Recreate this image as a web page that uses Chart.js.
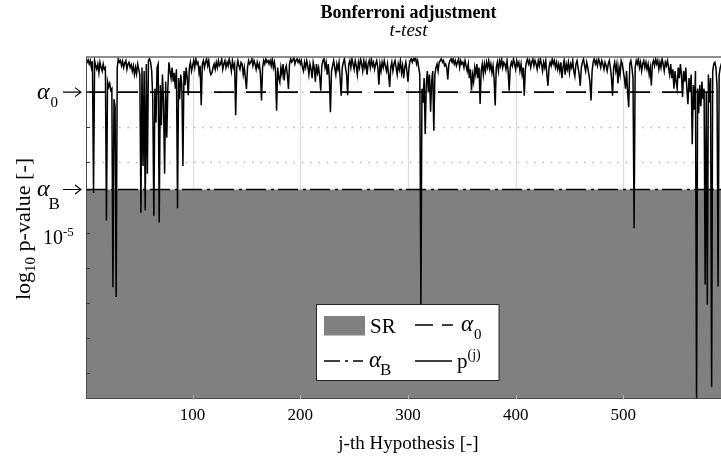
<!DOCTYPE html>
<html><head><meta charset="utf-8">
<script src="https://cdn.jsdelivr.net/npm/chart.js@4.4.1/dist/chart.umd.min.js"></script>
<style>
html,body{margin:0;padding:0;overflow:hidden;background:#fff;width:721px;height:459px}
#wrap{position:absolute;left:0;top:0;width:740px;height:459px}
</style>
</head><body><div id="wrap"><canvas id="c" width="740" height="459"></canvas></div>
<script>
// log10 of the p-value of each hypothesis j = 1..600
const pLog = [
 -0.05,-0.15,-0.08,-0.2,-0.1,-0.3,-0.12,-3.87,-0.1,-0.25,
 -0.35,-0.2,-0.45,-0.15,-0.3,-0.4,-0.2,-0.35,-0.3,-4.65,
 -0.7,-0.85,-0.75,-0.95,-0.9,-6.55,-1.2,-1.4,-6.83,-0.3,
 -0.05,-0.15,-0.1,-0.25,-0.12,-0.3,-0.18,-0.1,-0.35,-0.2,
 -0.15,-0.3,-0.22,-0.4,-0.25,-0.5,-0.3,-0.48,-0.2,-0.35,
 -0.5,-4.43,-0.3,-3.1,-0.4,-4.36,-0.2,-3.32,-0.1,-0.05,
 -0.15,-0.4,-1.2,-4.52,-0.9,-1.86,-0.3,-0.2,-4.71,-0.8,
 -1.94,-0.5,-1.3,-3.32,-0.7,-2.3,-0.9,-0.15,-0.4,-0.6,
 -0.3,-0.7,-0.45,-0.9,-0.35,-4.3,-0.6,-1.2,-0.5,-0.8,
 -3.1,-0.4,-0.8,-0.3,-0.6,-1.09,-0.3,-0.15,-0.4,-0.25,
 -0.1,-0.3,-0.05,-0.2,-0.15,-0.45,-0.25,-1.37,-0.2,-0.1,
 -0.3,-0.15,-0.05,-0.25,-0.1,-0.4,-0.5,-0.45,-0.3,-0.2,
 -0.35,-0.15,-0.3,-0.1,-0.25,-0.2,-0.05,-0.35,-0.2,-0.1,
 -0.3,-0.15,-0.25,-0.05,-0.2,-0.4,-0.1,-0.3,-0.2,-1.66,
 -0.3,-0.1,-0.25,-0.35,-0.15,-0.2,-0.5,-0.3,-0.6,-0.91,
 -0.3,-0.1,-0.2,-0.15,-0.05,-0.25,-0.1,-0.2,-0.35,-0.15,
 -0.3,-0.2,-0.5,-1.24,-0.3,-0.1,-0.2,-0.05,-0.15,-0.1,
 -0.2,-0.1,-0.25,-0.05,-0.3,-0.15,-0.4,-1.53,-0.3,-0.6,
 -0.72,-0.3,-0.5,-0.2,-0.67,-0.35,-0.25,-0.5,-0.91,-0.2,
 -0.05,-0.15,-0.1,0,-0.2,-0.1,-0.05,-0.15,-0.08,-0.2,
 -0.1,-0.3,-0.4,-0.15,-0.3,-0.1,-0.25,-0.5,-0.2,-0.35,
 -0.6,-0.15,-0.3,-0.7,-0.2,-0.45,-0.3,-0.55,-0.96,-0.25,
 -0.1,-0.05,-0.3,-0.15,-0.5,-0.2,-0.6,-1.57,-0.4,-0.25,
 -0.1,-0.3,-0.5,-0.2,-0.35,-0.15,-0.6,-1.1,-0.3,-0.15,
 -0.05,-0.3,-0.5,-1.09,-0.2,-0.1,-0.3,-0.05,-0.2,-0.35,
 -0.1,-0.25,-0.5,-0.15,-0.3,-0.05,-0.2,-0.4,-0.1,-0.3,
 -0.15,-0.5,-0.2,-0.1,-0.3,-0.05,-0.25,-0.15,-0.35,-0.2,
 -0.1,-0.3,-0.79,-0.2,-0.4,-0.15,-0.3,-0.1,-0.25,-0.4,
 -0.2,-0.5,-0.85,-0.3,-0.15,-0.4,-0.2,-0.1,-0.3,-0.5,
 -0.2,-0.35,-0.1,-0.45,-0.25,-0.6,-0.3,-0.15,-0.4,-0.7,
 -0.3,-0.1,-0.05,-0.15,-0.05,-0.1,0,-0.2,-0.1,-0.3,
 -0.5,-7.2,-0.9,-1.3,-0.6,-2.19,-0.8,-0.4,-1.0,-0.5,
 -1.56,-0.7,-0.4,-2.1,-0.5,-0.3,-0.2,-0.4,-0.15,-0.1,
 -0.05,-0.15,-0.1,-0.25,-0.2,-0.3,-0.64,-0.2,-0.1,-0.05,
 -0.15,-0.05,-0.2,-0.1,-0.25,-0.15,-0.05,-0.3,-0.1,-0.2,
 -0.15,-0.3,-0.1,-0.25,-0.4,-0.2,-0.6,-0.35,-0.95,-0.5,
 -0.7,-0.3,-0.5,-0.2,-0.6,-0.3,-1.34,-0.4,-0.2,-0.5,
 -0.2,-0.4,-0.15,-0.3,-0.1,-0.35,-0.2,-0.45,-0.25,-0.6,
 -1.38,-0.3,-0.15,-0.4,-0.1,-0.25,-0.05,-0.3,-0.15,-0.2,
 -0.35,-0.1,-0.4,-0.96,-0.3,-0.15,-0.25,-0.05,-0.2,-0.35,
 -0.1,-0.25,-0.15,-0.4,-0.2,-0.5,-0.3,-1.1,-0.35,-0.15,
 -0.05,-0.2,-0.1,-0.3,-0.15,-0.05,-0.25,-0.1,-0.2,-0.35,
 -0.1,-0.25,-0.05,-0.2,-0.4,-0.15,-0.3,-0.1,-0.5,-0.82,
 -0.3,-0.15,-0.25,-0.05,-0.2,-0.1,-0.3,-0.15,-0.35,-0.2,
 -0.4,-0.15,-0.6,-0.3,-0.1,-0.5,-0.2,-0.35,-0.15,-0.45,
 -0.2,-0.3,-0.1,-0.4,-0.55,-0.2,-0.1,-0.3,-0.5,-0.82,
 -0.3,-0.15,-0.05,-0.25,-0.4,-0.15,-0.3,-0.5,-0.7,-1.24,
 -0.4,-0.15,-0.05,-0.2,-0.1,-0.25,-0.05,-0.15,-0.3,-0.1,
 -0.2,-0.35,-0.15,-0.25,-0.4,-0.2,-0.1,-0.3,-0.6,-1.1,
 -0.3,-0.15,-0.4,-0.2,-0.75,-0.3,-0.5,-0.1,-0.2,-0.4,
 -0.6,-0.9,-0.4,-1.0,-1.43,-0.2,-0.1,-0.3,-0.6,-4.87,
 -0.3,-0.1,-0.2,-0.05,-0.3,-0.15,-0.4,-0.2,-0.1,-0.3,
 -0.15,-0.35,-0.2,-0.5,-0.3,-0.81,-0.2,-0.1,-0.25,-0.05,
 -0.2,-0.1,-0.35,-0.15,-0.3,-0.05,-0.2,-0.4,-0.15,-0.25,
 -0.1,-0.3,-0.5,-0.2,-0.6,-0.35,-0.9,-0.4,-0.7,-0.9,
 -0.3,-0.6,-0.2,-0.5,-1.14,-0.4,-0.7,-0.3,-0.9,-1.34,
 -0.6,-1.0,-0.5,-2.48,-0.8,-1.5,-0.4,-9.73,-0.9,-1.6,
 -0.8,-1.4,-0.7,-1.2,-0.9,-6.47,-1.0,-7.05,-0.5,-1.3,
 -0.6,-9.39,-0.4,-0.2,-0.15,-0.3,-0.8,-6.53,-0.5,-0.3,
 -0.2,-0.1,-0.3,-0.15,-0.25,-0.1,-0.2,-0.05,-0.3,-0.15
];
const hypotheses = pLog.map((_, i) => i + 1);   // j = 1..600
const alpha0Log = -1.0;      // log10(alpha_0)
const alphaBLog = -3.77;     // log10(alpha_B)
const yMinLog = -9.73;
const xTickValues = [100, 200, 300, 400, 500];
const yGridValues = [-1, -2, -3, -4, -5, -6, -7, -8, -9];
const yTickMarks = [-1, -2, -3, alphaBLog, -5, -6, -7, -8, -9];
const titleText = 'Bonferroni adjustment';
const subtitleText = 't-test';
const xTitleText = 'j-th Hypothesis [-]';

const FONT = '"Liberation Serif", "Times New Roman", serif';
const GRAY = '#808080';

function txt(ctx, s, x, y, size, o = {}) {
  ctx.font = `${o.style || 'normal'} ${o.weight || 'normal'} ${size}px ${FONT}`;
  ctx.textAlign = o.align || 'left';
  ctx.textBaseline = 'alphabetic';
  ctx.fillStyle = '#000';
  ctx.fillText(s, x, y);
  return ctx.measureText(s).width;
}
function hline(ctx, x1, x2, y, dash, lw) {
  ctx.save();
  ctx.strokeStyle = '#000'; ctx.lineWidth = lw || 1.6;
  ctx.setLineDash(dash || []);
  ctx.beginPath(); ctx.moveTo(x1, y); ctx.lineTo(x2, y); ctx.stroke();
  ctx.restore();
}
function arrow(ctx, x1, x2, y) {
  ctx.save();
  ctx.strokeStyle = '#000'; ctx.lineWidth = 1.1;
  ctx.beginPath(); ctx.moveTo(x1, y); ctx.lineTo(x2, y);
  ctx.moveTo(x2 - 6, y - 4.5); ctx.lineTo(x2, y); ctx.lineTo(x2 - 6, y + 4.5);
  ctx.stroke(); ctx.restore();
}

const decor = {
  id: 'decor',
  beforeDatasetsDraw(chart) {
    const ctx = chart.ctx, a = chart.chartArea, xs = chart.scales.x, ys = chart.scales.y;
    ctx.save();
    ctx.strokeStyle = '#dcdcdc'; ctx.lineWidth = 1.2;
    xTickValues.forEach(v => {
      const x = Math.round(xs.getPixelForValue(v)) + 0.5;
      ctx.beginPath(); ctx.moveTo(x, a.top); ctx.lineTo(x, a.bottom); ctx.stroke();
    });
    ctx.strokeStyle = '#b8b8b8'; ctx.lineWidth = 1.3; ctx.setLineDash([1.5, 6.8]);
    yGridValues.forEach(v => {
      const y = Math.round(ys.getPixelForValue(v)) + 0.5;
      ctx.beginPath(); ctx.moveTo(a.left, y); ctx.lineTo(a.right, y); ctx.stroke();
    });
    ctx.restore();
  },
  afterDatasetsDraw(chart) {
    const ctx = chart.ctx, a = chart.chartArea, xs = chart.scales.x, ys = chart.scales.y;
    ctx.save();
    ctx.strokeStyle = '#6a6a6a'; ctx.lineWidth = 1.5;
    ctx.beginPath(); ctx.moveTo(a.left, a.top); ctx.lineTo(a.right, a.top); ctx.stroke();
    ctx.strokeStyle = '#4a4a4a'; ctx.lineWidth = 1;
    ctx.beginPath();
    ctx.moveTo(a.left + 0.5, a.top); ctx.lineTo(a.left + 0.5, a.bottom);
    ctx.moveTo(a.left, a.bottom - 0.5); ctx.lineTo(a.right, a.bottom - 0.5);
    ctx.moveTo(a.right - 0.5, a.top); ctx.lineTo(a.right - 0.5, a.bottom);
    ctx.stroke();
    ctx.strokeStyle = '#3a3a3a'; ctx.lineWidth = 1;
    yTickMarks.forEach(v => {
      const y = Math.round(ys.getPixelForValue(v)) + 0.5;
      ctx.beginPath(); ctx.moveTo(a.left, y); ctx.lineTo(a.left + 4, y); ctx.stroke();
    });
    ctx.strokeStyle = '#b0b0b0';
    xTickValues.forEach(v => {
      const x = Math.round(xs.getPixelForValue(v)) + 0.5;
      ctx.beginPath(); ctx.moveTo(x, a.bottom); ctx.lineTo(x, a.bottom - 4); ctx.stroke();
    });
    ctx.restore();
  },
  afterDraw(chart) {
    const ctx = chart.ctx, a = chart.chartArea, xs = chart.scales.x, ys = chart.scales.y;
    const cx = (a.left + a.right) / 2;
    ctx.save();
    txt(ctx, titleText, cx, 18, 18, { weight: 'bold', align: 'center' });
    txt(ctx, subtitleText, cx, 36, 19, { style: 'italic', align: 'center' });
    xTickValues.forEach(v => txt(ctx, String(v), xs.getPixelForValue(v), 420, 17, { align: 'center' }));
    txt(ctx, xTitleText, cx, 449, 19, { align: 'center' });
    const y0 = ys.getPixelForValue(alpha0Log);
    let w = txt(ctx, '\u03B1', 37, y0 + 6.5, 24, { style: 'italic' });
    txt(ctx, '0', 37 + w + 1, y0 + 15, 15);
    arrow(ctx, 63, 81, y0);
    const yB = ys.getPixelForValue(alphaBLog);
    w = txt(ctx, '\u03B1', 37, yB + 6.5, 24, { style: 'italic' });
    txt(ctx, 'B', 37 + w - 1, yB + 19, 17);
    arrow(ctx, 63, 81, yB);
    const y5 = ys.getPixelForValue(-5);
    w = txt(ctx, '10', 43, y5 + 11.5, 20);
    txt(ctx, '-5', 43 + w, y5 + 3, 13);
    // y title (rotated)
    ctx.save();
    ctx.translate(30, 229);
    ctx.rotate(-Math.PI / 2);
    ctx.font = `22px ${FONT}`;
    const w1 = ctx.measureText('log').width;
    ctx.font = `15px ${FONT}`;
    const w2 = ctx.measureText('10').width;
    ctx.font = `22px ${FONT}`;
    const w3 = ctx.measureText(' p-value [-]').width;
    let x = -(w1 + w2 + w3) / 2;
    x += txt(ctx, 'log', x, 0, 22);
    x += txt(ctx, '10', x, 5, 15);
    txt(ctx, ' p-value [-]', x, 0, 22);
    ctx.restore();
    // legend
    ctx.fillStyle = '#fff';
    ctx.fillRect(316.5, 304.5, 182.5, 76);
    ctx.strokeStyle = '#262626'; ctx.lineWidth = 1;
    ctx.strokeRect(316.5, 304.5, 182.5, 76);
    ctx.fillStyle = GRAY;
    ctx.fillRect(324, 316, 41, 19.5);
    txt(ctx, 'SR', 370, 333, 21);
    hline(ctx, 415, 453, 325, [18, 9]);
    w = txt(ctx, '\u03B1', 461, 331, 23, { style: 'italic' });
    txt(ctx, '0', 461 + w + 1, 339, 15);
    hline(ctx, 324, 363, 361, [16, 5, 3, 5]);
    w = txt(ctx, '\u03B1', 369, 367, 23, { style: 'italic' });
    txt(ctx, 'B', 369 + w - 1, 375, 17);
    hline(ctx, 415, 452, 361, []);
    w = txt(ctx, 'p', 457, 368, 21);
    txt(ctx, '(j)', 457 + w, 359, 14);
    ctx.restore();
  }
};

const pPoints = hypotheses.map((j, i) => ({ x: j, y: pLog[i] }));
const xFirst = hypotheses[0], xLast = hypotheses[hypotheses.length - 1];

new Chart(document.getElementById('c'), {
  type: 'line',
  data: {
    datasets: [
      { label: 'SR', data: [{ x: xFirst, y: alphaBLog }, { x: xLast, y: alphaBLog }],
        fill: 'start', backgroundColor: GRAY, borderWidth: 0, pointRadius: 0, order: 3 },
      { label: 'alphaB', data: [{ x: xFirst, y: alphaBLog }, { x: xLast, y: alphaBLog }],
        fill: false, borderColor: '#000', borderWidth: 1.6, borderDash: [20, 5, 3, 4], pointRadius: 0, order: 2 },
      { label: 'alpha0', data: [{ x: xFirst, y: alpha0Log }, { x: xLast, y: alpha0Log }],
        fill: false, borderColor: '#000', borderWidth: 1.6, borderDash: [20, 12], pointRadius: 0, order: 1 },
      { label: 'p', data: pPoints, fill: false, borderColor: '#000', borderWidth: 1.5,
        pointRadius: 0, tension: 0, order: 0, borderJoinStyle: 'miter' }
    ]
  },
  options: {
    responsive: false, animation: false, devicePixelRatio: 1,
    layout: { padding: { left: 86, top: 57, right: 9, bottom: 60 } },
    plugins: { legend: { display: false }, tooltip: { enabled: false } },
    scales: {
      x: { type: 'linear', min: xFirst, max: xLast, display: false },
      y: { type: 'linear', min: yMinLog, max: 0, display: false }
    }
  },
  plugins: [decor]
});
</script>
</body></html>
